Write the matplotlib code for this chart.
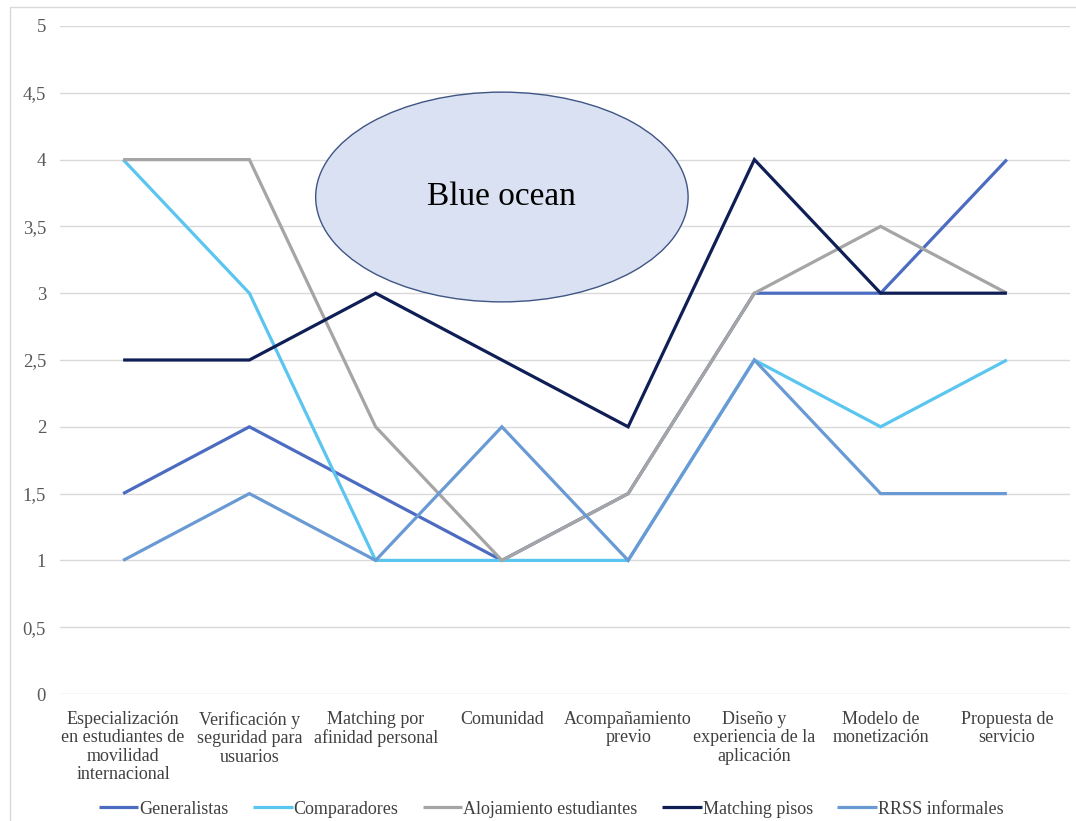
import matplotlib
matplotlib.use("Agg")
import matplotlib.pyplot as plt
from matplotlib.patches import Ellipse, Rectangle

plt.rcParams['font.family'] = ['Liberation Serif', 'DejaVu Serif']

categories = [
    "Especialización\nen estudiantes de\nmovilidad\ninternacional",
    "Verificación y\nseguridad para\nusuarios",
    "Matching por\nafinidad personal",
    "Comunidad",
    "Acompañamiento\nprevio",
    "Diseño y\nexperiencia de la\naplicación",
    "Modelo de\nmonetización",
    "Propuesta de\nservicio",
]

generalistas = [1.5, 2, 1.5, 1, 1.5, 3, 3, 4]
comparadores = [4, 3, 1, 1, 1, 2.5, 2, 2.5]
alojamiento_estudiantes = [4, 4, 2, 1, 1.5, 3, 3.5, 3]
matching_pisos = [2.5, 2.5, 3, 2.5, 2, 4, 3, 3]
rrss_informales = [1, 1.5, 1, 2, 1, 2.5, 1.5, 1.5]

series = [
    ("Generalistas", generalistas, "#4C6CC2"),
    ("Comparadores", comparadores, "#5AC6F0"),
    ("Alojamiento estudiantes", alojamiento_estudiantes, "#A5A5A5"),
    ("Matching pisos", matching_pisos, "#0F1F55"),
    ("RRSS informales", rrss_informales, "#6A9AD3"),
]

y_ticks = [0, 0.5, 1, 1.5, 2, 2.5, 3, 3.5, 4, 4.5, 5]
y_tick_labels = ["0", "0,5", "1", "1,5", "2", "2,5", "3", "3,5", "4", "4,5", "5"]

W, H = 1076, 821
fig = plt.figure(figsize=(W / 100, H / 100), dpi=100)

# outer chart frame
fig.add_artist(Rectangle((10 / W, -0.05), 1.2, 1 - 7 / H + 0.05,
                         transform=fig.transFigure, fill=False,
                         edgecolor="#D9D9D9", linewidth=1.0))

ax = fig.add_axes([60 / W, 127 / H, (1070 - 60) / W, (694 - 26) / H])

x = list(range(len(categories)))
for name, vals, color in series:
    ax.plot(x, vals, color=color, linewidth=2.3, label=name,
            solid_joinstyle="miter", solid_capstyle="butt", zorder=3)

ax.set_xlim(-0.5, len(categories) - 0.5)
ax.set_ylim(0, 5)
ax.set_yticks(y_ticks)
ax.set_yticklabels(y_tick_labels, fontsize=13.5, color="#595959")
ax.set_xticks(x)
ax.set_xticklabels(categories, fontsize=13, color="#404040", linespacing=1.12,
                   va="top")
ax.tick_params(axis="both", length=0)
ax.tick_params(axis="y", pad=10)
ax.tick_params(axis="x", pad=12)
ax.grid(axis="y", color="#D9D9D9", linewidth=1.0, zorder=0)
ax.set_axisbelow(True)
for s in ax.spines.values():
    s.set_visible(False)

# blue ocean annotation
ell = Ellipse((3.0, 3.72), 2.95, 1.57, facecolor="#D9E1F2",
              edgecolor="#3F5584", linewidth=1.0, zorder=5)
ax.add_patch(ell)
ax.text(3.0, 3.72, "Blue ocean", ha="center", va="center", fontsize=24,
        color="#000000", zorder=6)

fig.legend(loc="center", bbox_to_anchor=(551 / W, 12 / H), ncol=5, frameon=False,
           fontsize=13, handlelength=2.2, handletextpad=0.05,
           columnspacing=1.35, labelcolor="#404040")

fig.savefig("out.png", dpi=100, facecolor="white")
